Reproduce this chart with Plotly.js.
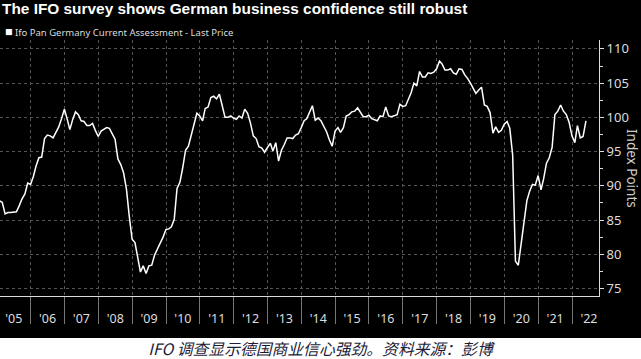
<!DOCTYPE html>
<html>
<head>
<meta charset="utf-8">
<script src="https://cdn.plot.ly/plotly-3.0.1.min.js"></script>
<style>
  html, body { margin: 0; padding: 0; background: #ffffff; overflow: hidden; }
  #chart { width: 641px; height: 338px; }
  #caption { width: 641px; height: 21px; background: #ffffff; text-align: center;
    font-family: "Noto Sans CJK SC", "Noto Sans", sans-serif; font-style: italic;
    font-size: 15.8px; line-height: 21px; color: #1c1c38; white-space: nowrap; }
</style>
</head>
<body>
<div id="chart"></div>
<div id="caption">IFO 调查显示德国商业信心强劲。资料来源：彭博</div>
<script>
// Monthly series (month-end dated), starting January 2005
const startYear = 2005;
const startMonth = 1;
const seriesName = "Ifo Pan Germany Current Assessment - Last Price";
const values2005 = [87.8, 87.6, 85.9, 86.1, 86.1, 86.2, 86.2, 87.1, 88.1, 88.8, 90.4, 90.2];
const values2006 = [91.4, 92.9, 94.1, 94.2, 96.9, 97.4, 97.3, 97.0, 97.7, 98.6, 99.8, 101.2];
const values2007 = [99.7, 98.2, 99.7, 100.8, 100.4, 99.5, 99.4, 98.8, 98.8, 99.1, 98.1, 97.2];
const values2008 = [98.0, 98.2, 98.5, 98.4, 97.5, 96.8, 93.9, 93.1, 91.9, 89.5, 85.6, 82.2];
const values2009 = [81.7, 79.5, 77.4, 78.3, 77.2, 78.3, 78.4, 79.9, 80.7, 81.5, 82.5, 83.6];
const values2010 = [83.7, 84.0, 85.1, 89.6, 90.5, 92.6, 95.2, 95.8, 97.4, 99.0, 100.6, 100.2];
const values2011 = [99.5, 101.3, 101.5, 102.9, 103.1, 102.7, 103.4, 101.7, 100.0, 100.0, 100.2, 99.9];
const values2012 = [99.7, 100.2, 99.9, 101.2, 100.6, 99.2, 97.3, 96.9, 95.7, 95.5, 94.9, 95.6];
const values2013 = [96.2, 95.1, 96.3, 93.6, 95.2, 96.0, 97.0, 97.0, 96.9, 97.4, 97.6, 98.5];
const values2014 = [99.5, 99.8, 100.7, 101.7, 99.6, 99.9, 99.5, 98.7, 97.9, 96.7, 95.8, 98.0];
const values2015 = [98.5, 97.8, 98.5, 100.2, 100.4, 100.8, 100.9, 101.4, 100.8, 100.1, 100.1, 100.3];
const values2016 = [99.8, 99.6, 99.5, 100.2, 100.1, 101.5, 100.2, 100.1, 100.3, 100.4, 101.9, 101.6];
const values2017 = [101.7, 102.5, 103.6, 105.0, 104.6, 106.7, 105.9, 105.9, 106.5, 106.4, 106.6, 107.1];
const values2018 = [108.2, 107.8, 106.9, 106.9, 107.1, 106.5, 106.3, 107.1, 107.0, 106.2, 105.7, 105.0];
const values2019 = [104.3, 103.5, 104.0, 104.4, 101.8, 101.6, 100.7, 97.7, 98.6, 97.8, 98.1, 99.0];
const values2020 = [99.4, 98.4, 94.5, 79.0, 78.4, 81.5, 84.9, 87.8, 89.2, 90.2, 90.1, 91.5];
const values2021 = [89.4, 91.0, 93.3, 94.1, 95.6, 100.4, 100.9, 101.8, 100.9, 100.4, 99.3, 97.3];
const values2022 = [96.3, 98.8, 97.0, 97.2, 99.5];

const yTickValues = [75, 80, 85, 90, 95, 100, 105, 110];
const titleText = "The IFO survey shows German business confidence still robust";
const yTitleText = "Index Points";

const values = [].concat(values2005, values2006, values2007, values2008, values2009,
  values2010, values2011, values2012, values2013, values2014, values2015, values2016,
  values2017, values2018, values2019, values2020, values2021, values2022);

function pad(n) { return (n < 10 ? "0" : "") + n; }
const dates = values.map(function (v, i) {
  const d = new Date(Date.UTC(startYear, startMonth - 1 + i + 1, 0));
  return d.getUTCFullYear() + "-" + pad(d.getUTCMonth() + 1) + "-" + pad(d.getUTCDate());
});

const axisFont = { family: "Noto Sans, sans-serif", size: 12.5, color: "#dddddd" };

const trace = {
  type: "scatter", mode: "lines", x: dates, y: values, name: seriesName,
  line: { color: "#ffffff", width: 1.5 }, hoverinfo: "skip", showlegend: false
};

const layout = {
  width: 641, height: 338,
  margin: { l: 0, r: 42, t: 40, b: 42 },
  paper_bgcolor: "#000000", plot_bgcolor: "#000000",
  showlegend: false,
  xaxis: {
    type: "date", range: ["2005-02-04", "2022-10-19"],
    dtick: "M12", tick0: "2005-01-01", ticklabelmode: "period", tickformat: "'%y",
    ticks: "outside", ticklen: 27, tickcolor: "#777777", tickwidth: 1,
    ticklabelstandoff: -16,
    showgrid: true, gridcolor: "#555555", griddash: "dot", gridwidth: 1,
    showline: true, linecolor: "#dddddd", linewidth: 1,
    zeroline: false, tickfont: axisFont, fixedrange: true
  },
  yaxis: {
    side: "right", range: [73.9, 111.3],
    tickvals: yTickValues,
    ticks: "outside", ticklen: 4, tickcolor: "#dddddd", tickwidth: 1,
    minor: { ticks: "outside", ticklen: 3, dtick: 2.5, tick0: 0, tickcolor: "#dddddd", showgrid: false },
    showgrid: true, gridcolor: "#555555", griddash: "dot", gridwidth: 1,
    showline: true, linecolor: "#dddddd", linewidth: 1,
    zeroline: false, tickfont: { family: "Noto Sans, sans-serif", size: 13, color: "#dddddd" },
    fixedrange: true
  },
  annotations: [
    { text: "<b>" + titleText + "</b>", xref: "paper", yref: "paper", x: 0, y: 1 + 31.5 / 256,
      xanchor: "left", yanchor: "middle", showarrow: false,
      font: { family: "Liberation Sans, Arial, sans-serif", size: 15.4, color: "#ffffff" } },
    { text: "<span style='font-size:12.5px;color:#ffffff'>■</span> " + seriesName, xref: "paper", yref: "paper", x: 3 / 599, y: 1 + 9 / 256,
      xanchor: "left", yanchor: "middle", showarrow: false,
      font: { family: "Noto Sans, sans-serif", size: 9.5, color: "#dddddd" } },
    { text: yTitleText, xref: "paper", yref: "paper", x: 632 / 599, y: 0.5,
      xanchor: "center", yanchor: "middle", textangle: 90, showarrow: false,
      font: { family: "Noto Sans, sans-serif", size: 13.5, color: "#cccccc" } }
  ]
};

Plotly.newPlot("chart", [trace], layout, { staticPlot: true, displayModeBar: false });
</script>
</body>
</html>
